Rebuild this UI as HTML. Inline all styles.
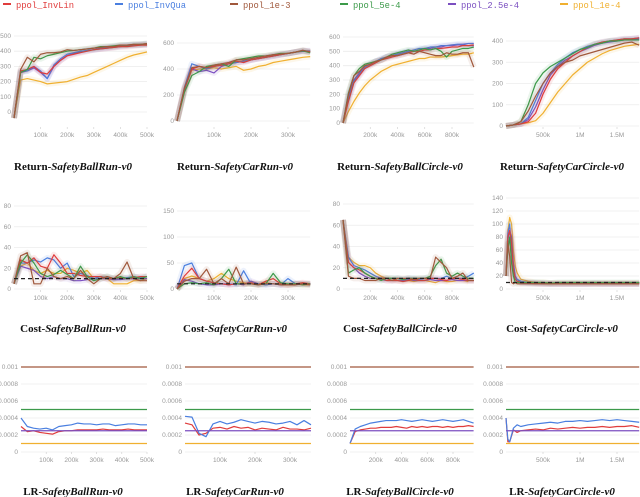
<!DOCTYPE html>
<html><head><meta charset="utf-8"><style>
body{margin:0;background:#fff;}
svg{display:block;}
.tk{font-family:"Liberation Sans",sans-serif;font-size:6.5px;fill:#999;}
.tt{font-family:"Liberation Serif",serif;font-size:11px;font-weight:bold;fill:#111;}
.lg{font-family:"Liberation Mono",monospace;font-size:8.8px;}
</style></head><body>
<svg id="c" width="640" height="497" viewBox="0 0 640 497"></svg>
<script>
const seriesNames=["ppol_InvLin","ppol_InvQua","ppol_1e-3","ppol_5e-4","ppol_2.5e-4","ppol_1e-4"];
const colors=["#e03c3c","#4a7fe0","#a0583c","#3c9a4a","#7b4fc0","#f0b030"];
const legendX=[3,115,230,340,448,560];
const xs21=[0,25,50,75,100,125,150,175,200,225,250,275,300,325,350,375,400,425,450,475,500];
const xs19=[0,20,40,60,80,100,120,140,160,180,200,220,240,260,280,300,320,340,360];
const xs25=[0,40,80,120,160,200,240,280,320,360,400,440,480,520,560,600,640,680,720,760,800,840,880,920,960];
const xs19b=[0,100,200,300,400,500,600,700,800,900,1000,1100,1200,1300,1400,1500,1600,1700,1800];
const xsC4=[0,25,50,75,100,125,150,200,300,400,500,600,700,800,900,1000,1100,1200,1300,1400,1500,1600,1700,1800];
const xsL4=[0,25,50,100,150,200,300,400,500,600,700,800,900,1000,1100,1200,1300,1400,1500,1600,1700,1800];
const r1=[[-40,270,280,300,260,250,300,340,370,380,390,400,410,415,420,425,430,430,435,440,440],[-40,270,270,300,270,220,310,350,380,390,400,405,410,420,425,430,435,440,440,445,445],[-40,280,360,330,380,390,390,395,410,405,410,415,420,425,430,430,440,440,445,445,450],[-40,260,280,360,350,370,380,390,400,405,410,415,420,430,430,435,440,440,445,445,450],[-40,260,270,290,260,220,300,340,370,385,395,405,410,415,420,425,430,435,440,440,445],[-40,210,220,210,200,185,190,195,200,215,230,240,260,280,300,320,340,360,375,385,395]];
const r2=[[0,250,400,420,410,420,430,440,460,450,470,480,490,500,510,520,530,540,535],[0,260,440,420,400,420,430,440,450,460,470,480,490,500,510,520,530,540,540],[0,250,410,420,410,430,440,450,470,470,480,490,500,510,515,520,530,545,530],[0,220,350,380,420,430,440,420,470,480,490,500,500,510,520,520,530,540,525],[0,240,400,380,390,370,420,440,450,460,470,480,490,500,510,520,530,535,535],[0,240,390,400,400,410,400,410,420,390,400,420,430,450,460,470,480,490,495]];
const r3=[[0,150,280,330,380,400,420,440,450,460,470,480,490,500,500,510,510,520,520,525,530,530,540,540,545],[0,170,290,340,390,410,430,450,460,470,480,490,500,510,520,520,530,530,540,540,545,550,550,555,555],[0,200,330,360,400,410,430,440,460,470,470,480,490,480,500,490,480,470,470,490,480,480,490,490,390],[0,210,330,380,410,420,430,440,460,480,490,500,510,500,510,520,510,520,500,460,500,510,520,520,530],[0,180,300,350,390,410,430,440,460,470,480,490,500,500,510,520,520,530,530,540,540,545,545,540,540],[0,80,150,210,260,300,330,360,380,400,410,420,430,440,450,450,460,460,460,465,470,475,480,480,490]];
const r4=[[0,5,10,20,60,150,220,270,300,330,350,370,385,395,400,405,410,410,415],[0,5,10,40,120,200,250,290,320,345,360,375,385,395,400,405,410,410,415],[0,5,20,70,140,200,250,280,300,310,330,340,350,360,370,380,390,395,380],[0,5,20,100,200,250,280,300,320,340,360,370,385,390,400,400,405,405,405],[0,5,10,30,90,170,240,280,310,330,350,365,380,390,395,400,405,410,410],[0,5,10,15,25,60,110,160,200,240,270,300,320,340,355,365,375,380,385]];
const c1=[[5,28,25,30,22,20,33,25,15,15,13,12,12,12,10,10,11,10,11,12,12],[5,25,25,28,26,30,28,20,25,12,15,13,10,12,11,10,10,11,12,11,12],[5,32,35,5,5,20,12,10,12,10,18,10,5,10,12,10,15,26,10,8,8],[5,25,33,25,15,12,14,18,14,10,22,12,8,10,12,10,12,10,12,10,12],[5,22,20,18,12,10,12,10,10,8,8,9,10,10,10,9,9,10,10,10,10],[5,22,25,18,15,18,15,15,20,18,15,18,10,12,10,5,5,5,8,8,10]];
const c2=[[0,25,40,20,15,12,10,8,10,10,12,8,15,20,10,8,10,12,10],[0,45,50,20,15,12,10,10,8,35,10,10,8,10,8,20,10,10,10],[0,15,20,20,38,10,20,10,42,10,10,8,10,10,8,8,8,10,8],[0,10,12,10,12,8,20,38,10,10,10,8,10,30,12,10,10,8,10],[0,18,15,10,8,8,10,8,10,8,15,10,8,10,8,8,10,10,8],[0,20,25,20,15,20,30,20,15,12,10,10,12,10,10,8,10,8,8]];
const c3=[[65,25,20,18,15,12,10,10,8,8,8,7,8,9,8,8,10,10,9,8,10,10,9,8,8],[65,30,22,20,18,15,12,10,10,10,10,9,10,10,9,10,10,10,10,12,10,10,10,12,15],[65,12,10,10,8,8,8,10,10,8,10,10,10,9,10,10,10,30,25,20,10,12,15,8,8],[65,15,18,20,15,12,10,8,10,10,10,9,10,10,10,10,12,22,28,15,12,15,12,10,10],[65,25,20,15,12,10,10,9,8,8,8,8,9,8,8,8,9,8,8,8,9,8,8,8,8],[65,30,25,22,22,20,15,12,10,10,8,8,8,7,8,8,7,6,8,7,7,8,8,7]];
const c4=[[20,80,90,70,30,15,12,10,10,9,8,8,8,8,8,8,8,8,8,8,8,8,8,8],[20,85,100,60,30,15,15,12,10,10,9,8,8,8,8,8,8,9,8,8,8,8,8,8],[20,70,50,10,8,10,8,8,8,8,8,8,8,8,8,8,8,8,8,8,8,8,8,8],[20,60,80,40,20,10,10,10,10,10,10,9,10,10,10,10,10,10,10,10,10,10,10,10],[20,75,90,80,40,20,15,10,9,8,8,8,8,8,8,8,8,8,8,8,8,8,8,8],[20,90,110,100,60,35,25,15,12,10,10,9,9,9,9,9,9,9,9,9,9,9,9,9]];
const lrConst=[null,null,10,5,2.5,1];
const l1=[[3.0,2.4,2.5,2.3,2.2,2.1,2.4,2.5,2.5,2.6,2.6,2.6,2.6,2.7,2.6,2.6,2.6,2.7,2.6,2.6,2.6],[4.0,3.0,2.8,2.7,2.8,2.6,3.0,3.1,3.2,3.4,3.3,3.3,3.2,3.3,3.3,3.1,3.2,3.3,3.3,3.2,3.2]];
const l2=[[3.4,3.2,2.0,2.2,2.8,2.9,2.7,3.0,2.8,2.9,2.6,2.8,2.7,2.6,2.9,2.7,2.7,2.6,2.8],[4.2,4.1,2.2,1.8,3.3,3.6,3.3,3.5,3.8,3.6,3.4,3.6,3.5,3.3,3.4,3.6,3.2,3.7,3.2]];
const l3=[[1.0,2.4,2.6,2.7,2.8,2.8,2.9,2.9,2.9,3.0,2.9,2.8,3.0,2.9,3.0,2.9,3.0,3.0,2.9,3.0,2.9,3.0,3.0,3.1,3.0],[1.0,2.7,3.0,3.2,3.4,3.5,3.6,3.7,3.7,3.7,3.8,3.7,3.6,3.7,3.8,3.7,3.6,3.7,3.8,3.7,3.6,3.7,3.8,3.6,3.4]];
const l4=[[4.0,1.2,1.2,2.6,2.3,2.5,2.6,2.7,2.6,2.8,2.7,2.8,2.9,2.8,2.9,2.9,3.0,2.9,3.0,3.0,3.1,2.9],[4.0,1.5,1.2,2.8,3.2,3.0,3.2,3.3,3.4,3.5,3.4,3.6,3.6,3.7,3.6,3.7,3.8,3.7,3.8,3.7,3.6,3.5]];
const xt500=[100,200,300,400,500], xt360=[100,200,300], xt960=[200,400,600,800], xt18=[500,1000,1500];
const xl500=["100k","200k","300k","400k","500k"], xl360=["100k","200k","300k"], xl960=["200k","400k","600k","800k"], xl18=["500k","1M","1.5M"];
const yR1=[0,100,200,300,400,500], yR2=[0,200,400,600], yR3=[0,100,200,300,400,500,600], yR4=[0,100,200,300,400];
const yC1=[0,20,40,60,80], yC2=[0,50,100,150], yC4=[0,20,40,60,80,100,120,140];
const yL=[0,2,4,6,8,10], yLlab=["0","0.0002","0.0004","0.0006","0.0008","0.001"];
const titles=[["Return-","SafetyBallRun-v0"],["Return-","SafetyCarRun-v0"],["Return-","SafetyBallCircle-v0"],["Return-","SafetyCarCircle-v0"],["Cost-","SafetyBallRun-v0"],["Cost-","SafetyCarRun-v0"],["Cost-","SafetyBallCircle-v0"],["Cost-","SafetyCarCircle-v0"],["LR-","SafetyBallRun-v0"],["LR-","SafetyCarRun-v0"],["LR-","SafetyBallCircle-v0"],["LR-","SafetyCarCircle-v0"]];

const NS="http://www.w3.org/2000/svg", svg=document.getElementById('c');
function mk(t,a,p){const e=document.createElementNS(NS,t);for(const k in a)e.setAttribute(k,a[k]);(p||svg).appendChild(e);return e;}
const panels=[
 {g:[14,500,147,500,112,500,36,135,73,170],xs:xs21,d:r1,xt:xt500,xl:xl500,yt:yR1},
 {g:[177,300,288,360,121,600,43,135,235,170],xs:xs19,d:r2,xt:xt360,xl:xl360,yt:yR2},
 {g:[343,800,452,960,123,600,37,135,400,170],xs:xs25,d:r3,xt:xt960,xl:xl960,yt:yR3},
 {g:[506,1500,617,1800,126,400,41,135,562,170],xs:xs19b,d:r4,xt:xt18,xl:xl18,yt:yR4},
 {g:[14,500,147,500,289,80,206,298,73,332],xs:xs21,d:c1,xt:xt500,xl:xl500,yt:yC1,thr:10},
 {g:[177,300,288,360,289,150,211,298,235,332],xs:xs19,d:c2,xt:xt360,xl:xl360,yt:yC2,thr:10},
 {g:[343,800,452,960,289,80,204,298,400,332],xs:xs25,d:c3,xt:xt960,xl:xl960,yt:yC1,thr:10},
 {g:[506,1500,617,1800,289,140,198,298,562,332],xs:xsC4,d:c4,xt:xt18,xl:xl18,yt:yC4,thr:10},
 {g:[21,500,147,500,452,10,367,460,73,495],xs:xs21,d:l1,xt:xt500,xl:xl500,yt:yL,yl:yLlab,lr:1},
 {g:[185,300,290,360,452,10,367,460,235,495],xs:xs19,d:l2,xt:xt360,xl:xl360,yt:yL,yl:yLlab,lr:1},
 {g:[350,800,453,960,452,10,367,460,400,495],xs:xs25,d:l3,xt:xt960,xl:xl960,yt:yL,yl:yLlab,lr:1},
 {g:[506,1500,617,1800,452,10,367,460,562,495],xs:xsL4,d:l4,xt:xt18,xl:xl18,yt:yL,yl:yLlab,lr:1}
];
panels.forEach((p,i)=>{
 const [x0,xr,xrp,xmax,y0,yr,yrp,tY,tcx,tty]=p.g;
 const X=v=>x0+(xrp-x0)*v/xr, Y=v=>y0+(yrp-y0)*v/yr;
 const grp=mk('g',{});
 
 
 const L=x0, R=X(xmax);
 p.yt.forEach((v,k)=>{
  mk('line',{x1:L,x2:R,y1:Y(v),y2:Y(v),stroke:'#ececec','stroke-width':0.8},grp);
  const t=mk('text',{x:L-3,y:Y(v)+2,'text-anchor':'end',class:'tk'},grp);
  
  
  t.textContent=p.yl?p.yl[k]:String(v);
 });
 p.xt.forEach((v,k)=>{
  mk('line',{x1:X(v),x2:X(v),y1:tY-8,y2:tY-6,stroke:'#ccc','stroke-width':0.6},grp);
  const t=mk('text',{x:X(v),y:tY+2,'text-anchor':'middle',class:'tk'},grp);
  
  
  t.textContent=p.xl[k];
 });
 const ser=p.lr?[0,1,2,3,4,5]:[5,4,1,0,3,2];
 ser.forEach(s=>{
  let pts;
  if(p.lr && lrConst[s]!==null) pts=[[L,Y(lrConst[s])],[R,Y(lrConst[s])]];
  else pts=p.d[s].map((v,j)=>[X(p.xs[j]),Y(v)]);
  if(!p.lr){
   const band=mk('polyline',{points:pts.map(q=>q[0]+','+q[1]).join(' '),fill:'none',stroke:colors[s],'stroke-opacity':0.1,'stroke-width':6,'stroke-linejoin':'round'},grp);
   
   
  }
  const pl=mk('polyline',{points:pts.map(q=>q[0]+','+q[1]).join(' '),fill:'none',stroke:colors[s],'stroke-width':1.2,'stroke-linejoin':'round'},grp);
  
  
 });
 if(p.thr!==undefined){
  const th=mk('line',{x1:L,x2:R,y1:Y(p.thr),y2:Y(p.thr),stroke:'#222','stroke-width':1.2,'stroke-dasharray':'4,3'},grp);
  
  
 }
 const t=mk('text',{x:tcx,y:tty,'text-anchor':'middle',class:'tt'},grp);
 
 
 const a=mk('tspan',{},t); a.textContent=titles[i][0];
 const b=mk('tspan',{'font-style':'italic'},t); b.textContent=titles[i][1];
});
seriesNames.forEach((n,i)=>{
 const g=mk('g',{});
 
 
 mk('line',{x1:legendX[i],x2:legendX[i]+8,y1:4,y2:4,stroke:colors[i],'stroke-width':2},g);
 const t=mk('text',{x:legendX[i]+13,y:8,class:'lg',fill:colors[i]},g);
 t.textContent=n;
});
</script>
</body></html>
